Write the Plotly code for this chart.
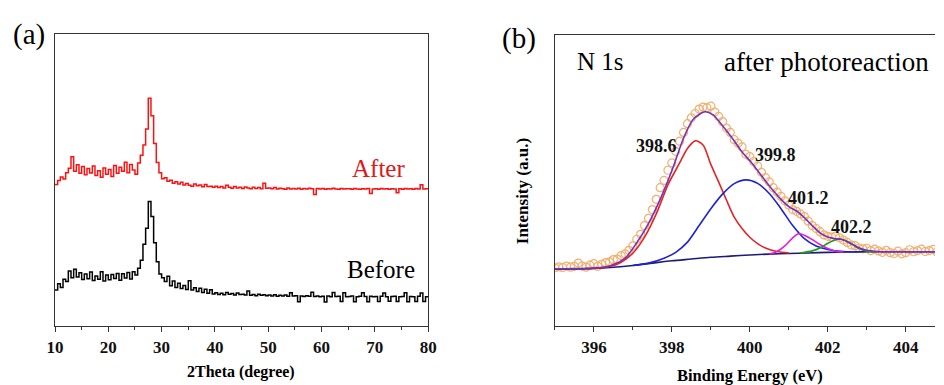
import plotly.graph_objects as go

# ---------------- Panel (a): XRD ----------------
two_theta = [10 + 0.5 * i for i in range(141)]
xrd_after = [
    48.5, 49.8, 51.0, 50.3, 52.5, 54.0, 58.0, 53.0, 55.2, 52.3,
    54.6, 51.8, 53.9, 52.4, 54.8, 51.5, 53.2, 50.9, 54.1, 52.0,
    53.6, 51.2, 55.0, 52.3, 54.4, 53.0, 56.1, 52.5, 55.3, 53.4,
    52.0, 55.8, 58.5, 62.0, 67.5, 78.0, 72.0, 62.5, 56.0, 52.5,
    50.4, 50.8, 49.6, 49.9, 48.9, 49.4, 48.6, 49.2, 48.3, 48.8,
    48.2, 47.9, 48.6, 48.0, 48.3, 47.7, 48.5, 47.8, 47.9, 47.5,
    47.9, 47.4, 47.8, 47.3, 48.2, 47.5, 47.2, 47.8, 47.3, 47.5,
    47.1, 47.6, 47.3, 47.0, 47.5, 47.1, 47.4, 47.0, 48.9, 47.2,
    47.3, 47.0, 47.4, 46.9, 47.2, 47.0, 46.8, 47.3, 46.9, 47.1,
    46.9, 47.2, 46.8, 47.1, 46.9, 47.2, 47.0, 45.0, 47.1, 46.9,
    47.1, 46.8, 47.0, 46.9, 47.2, 46.9, 46.8, 47.1, 46.9, 47.0,
    47.0, 46.8, 47.1, 46.9, 46.8, 47.0, 46.9, 47.1, 45.4, 46.9,
    47.0, 46.8, 47.1, 46.9, 47.0, 46.8, 47.0, 46.9, 45.6, 47.0,
    46.8, 47.1, 46.9, 47.0, 46.8, 47.1, 46.9, 48.4, 46.9, 47.0,
    46.9,
]
xrd_before = [
    12.3, 14.5, 13.2, 16.0, 15.2, 18.8, 16.5, 19.4, 16.8, 18.2,
    15.9, 17.8, 16.2, 18.5, 15.6, 17.1, 16.0, 18.6, 15.4, 17.5,
    15.8, 17.6, 16.3, 18.0, 15.7, 17.9, 16.4, 18.3, 16.1, 18.6,
    17.5, 19.8, 22.5, 28.0, 33.5, 42.6, 37.5, 28.5, 22.0, 17.8,
    16.5, 15.2, 17.0, 13.8, 15.4, 13.2, 14.6, 12.8, 13.9, 12.5,
    15.5, 12.3, 13.1, 11.8, 12.9, 11.5, 12.6, 11.2, 12.4, 11.0,
    11.4, 10.8, 11.2, 10.7, 11.5, 10.9, 11.1, 10.6, 11.3, 10.8,
    10.9, 10.6, 12.0, 10.5, 10.8, 10.4, 10.9, 10.5, 10.7, 10.4,
    10.6, 10.3, 10.7, 10.2, 10.5, 10.3, 10.6, 10.2, 11.4, 10.3,
    10.4, 8.3, 10.3, 10.1, 10.4, 10.2, 11.6, 10.1, 10.3, 10.0,
    10.2, 8.2, 10.3, 10.0, 11.5, 10.1, 10.2, 8.4, 11.4, 10.0,
    10.1, 10.3, 8.3, 10.0, 10.2, 11.4, 10.1, 8.3, 10.2, 10.0,
    10.1, 8.4, 10.2, 11.3, 10.0, 8.5, 10.1, 10.2, 8.4, 10.0,
    10.1, 11.4, 8.3, 10.1, 10.0, 8.4, 10.2, 11.3, 8.4, 10.0,
    10.0,
]
xrd_ticks = [10, 20, 30, 40, 50, 60, 70, 80]

# ---------------- Panel (b): XPS N 1s ----------------
be_raw = [round(395.0 + 0.1 * i, 1) for i in range(101)]
raw_counts = [
    20.0, 20.3, 20.1, 20.6, 20.2, 20.5, 21.6, 20.6, 20.2, 20.9,
    21.4, 20.5, 21.2, 21.8, 22.0, 22.8, 23.0, 24.2, 24.8, 26.0,
    27.5, 29.8, 31.5, 34.5, 37.0, 40.0, 43.5, 47.5, 50.0, 53.5,
    56.0, 60.0, 63.5, 66.5, 69.5, 71.5, 73.0, 74.5, 75.2, 75.0,
    75.5, 73.5, 72.0, 70.2, 68.0, 66.5, 64.0, 62.8, 61.5, 59.0,
    58.2, 56.5, 55.0, 52.8, 51.0, 49.5, 47.5, 46.0, 44.5, 43.0,
    41.5, 40.0, 39.4, 38.5, 37.6, 36.0, 34.5, 33.5, 32.4, 31.3,
    30.8, 30.5, 30.9, 30.3, 29.5, 28.7, 27.8, 27.6, 26.8, 26.5,
    26.7, 25.9, 26.4, 25.8, 25.3, 26.0, 25.2, 24.9, 25.7, 24.8,
    25.2, 26.2, 25.5, 25.9, 26.4, 25.6, 25.9, 26.3, 25.4, 26.1,
    25.8,
]

bg_x = [395.0, 395.5, 396.0, 396.5, 397.0, 397.5, 398.0, 398.5, 399.0, 399.5,
        400.0, 400.5, 401.0, 401.5, 402.0, 402.5, 403.0, 404.0, 405.0]
bg_y = [19.5, 19.6, 19.8, 20.2, 20.8, 21.6, 22.4, 23.0, 23.6, 24.0,
        24.4, 24.7, 24.9, 25.1, 25.3, 25.4, 25.5, 25.5, 25.5]

red_x = [395.8, 396.2, 396.6, 397.0, 397.3, 397.6, 397.9, 398.2, 398.4, 398.6,
         398.8, 399.0, 399.2, 399.4, 399.6, 399.8, 400.0, 400.2, 400.4, 400.7, 401.0]
red_y = [19.7, 20.0, 21.2, 25.0, 30.5, 38.5, 48.5, 56.0, 61.0, 63.6,
         62.2, 55.5, 49.5, 43.3, 37.4, 33.5, 30.5, 28.3, 26.8, 25.6, 25.1]

blue_x = [397.0, 397.4, 397.8, 398.1, 398.4, 398.7, 399.0, 399.3, 399.6, 399.9,
          400.2, 400.5, 400.8, 401.1, 401.4, 401.7, 402.0, 402.4, 402.8]
blue_y = [20.8, 21.6, 23.3, 25.3, 28.8, 34.5, 40.3, 45.3, 48.9, 50.2,
          49.0, 45.5, 40.3, 34.5, 30.0, 27.5, 26.3, 25.6, 25.5]

mag_x = [400.5, 400.7, 400.9, 401.1, 401.25, 401.4, 401.6, 401.8, 402.0, 402.2, 402.4]
mag_y = [24.7, 25.6, 27.5, 30.3, 31.7, 31.2, 29.7, 28.0, 26.6, 25.7, 25.4]

green_x = [401.3, 401.6, 401.8, 402.0, 402.15, 402.3, 402.45, 402.6, 402.8, 403.0, 403.2]
green_y = [25.1, 25.8, 26.8, 28.4, 29.4, 29.8, 29.4, 28.3, 26.6, 25.7, 25.5]

env_x = [395.0, 395.5, 396.0, 396.4, 396.8, 397.1, 397.4, 397.7, 398.0, 398.3,
         398.55, 398.85, 399.05, 399.3, 399.55, 399.8, 400.05, 400.3, 400.55, 400.8,
         401.0, 401.2, 401.4, 401.6, 401.8, 402.0, 402.2, 402.35, 402.55, 402.8,
         403.0, 403.3, 403.6, 404.0, 405.0]
env_y = [19.6, 19.7, 19.9, 20.6, 23.3, 28.6, 35.2, 43.5, 53.3, 64.5,
         71.0, 73.6, 72.6, 68.8, 64.5, 59.8, 56.0, 51.6, 47.3, 43.5,
         41.0, 39.5, 37.2, 34.5, 32.0, 30.6, 30.0, 29.8, 28.6, 26.9,
         26.0, 25.6, 25.5, 25.5, 25.5]

be_ticks = [396, 398, 400, 402, 404]
peak_labels = ["398.6", "399.8", "401.2", "402.2"]
peak_label_x = [397.6, 400.65, 401.5, 402.6]
peak_label_y = [62.0, 58.9, 43.8, 33.9]

SERIF = "Liberation Serif"
AXC = "#333333"


def px(xr):
    return (xr - 55) / 889.0


def py(yr):
    return (326 - yr) / 292.0


fig = go.Figure()

fig.add_trace(go.Scatter(x=two_theta, y=xrd_after, mode="lines",
                         line=dict(color="#ff1010", width=1.5, shape="hv"),
                         xaxis="x", yaxis="y", showlegend=False))
fig.add_trace(go.Scatter(x=two_theta, y=xrd_before, mode="lines",
                         line=dict(color="#000000", width=1.5, shape="hv"),
                         xaxis="x", yaxis="y", showlegend=False))

fig.add_trace(go.Scatter(x=be_raw, y=raw_counts, mode="markers",
                         marker=dict(symbol="circle-open", size=8, color="#f0b070",
                                     line=dict(width=1.2, color="#f0b070")),
                         xaxis="x2", yaxis="y2", showlegend=False))
for xs, ys, col in [(bg_x, bg_y, "#1c1c78"),
                    (red_x, red_y, "#e02626"),
                    (blue_x, blue_y, "#1f22d0"),
                    (mag_x, mag_y, "#e020e0"),
                    (green_x, green_y, "#229922"),
                    (env_x, env_y, "#7a2fb8")]:
    fig.add_trace(go.Scatter(x=xs, y=ys, mode="lines",
                             line=dict(color=col, width=1.6, shape="spline", smoothing=0.8),
                             xaxis="x2", yaxis="y2", showlegend=False))


def pa(text, xr, yr, size, color="#000", angle=0):
    return dict(text=text, x=px(xr), y=py(yr), xref="paper", yref="paper",
                xanchor="center", yanchor="middle", showarrow=False, textangle=angle,
                font=dict(family=SERIF, size=size, color=color))


ann = [
    pa("(a)", 29, 34, 29),
    pa("(b)", 524, 39, 29),
    pa("N 1s", 606, 61, 25),
    pa("after photoreaction", 834, 62, 27),
    pa("<b>2Theta (degree)</b>", 243, 372, 16),
    pa("<b>Binding Energy (eV)</b>", 757, 375, 16.5),
    pa("<b>Intensity (a.u.)</b>", 527, 191, 17, angle=-90),
]
ann.append(dict(text="After", x=70.6, y=54.1, xref="x", yref="y", showarrow=False,
                xanchor="center", yanchor="middle",
                font=dict(family=SERIF, size=25, color="#e01818")))
ann.append(dict(text="Before", x=71.2, y=19.2, xref="x", yref="y", showarrow=False,
                xanchor="center", yanchor="middle",
                font=dict(family=SERIF, size=25, color="#000")))
for t, xx, yy in zip(peak_labels, peak_label_x, peak_label_y):
    ann.append(dict(text="<b>%s</b>" % t, x=xx, y=yy, xref="x2", yref="y2", showarrow=False,
                    xanchor="center", yanchor="middle",
                    font=dict(family=SERIF, size=18, color="#111")))

tickfont = dict(family=SERIF, size=17, color="#111")

fig.update_layout(
    width=944, height=385,
    margin=dict(l=55, r=0, t=34, b=59),
    font=dict(family=SERIF),
    paper_bgcolor="white", plot_bgcolor="white",
    annotations=ann,
    xaxis=dict(domain=[0, px(432)], range=[10, 80], tickvals=xrd_ticks,
               ticktext=["<b>%d</b>" % v for v in xrd_ticks],
               ticks="outside", ticklen=5, tickwidth=1.3, tickcolor=AXC,
               minor=dict(ticks="outside", ticklen=3, tickwidth=1.2, dtick=5, tick0=10, tickcolor=AXC),
               showline=True, linecolor=AXC, linewidth=1.4, mirror=True,
               showgrid=False, zeroline=False, tickfont=tickfont, anchor="y"),
    yaxis=dict(domain=[0, 1], range=[0, 100], showticklabels=False, ticks="",
               showline=True, linecolor=AXC, linewidth=1.4, mirror=True,
               showgrid=False, zeroline=False, anchor="x"),
    xaxis2=dict(domain=[px(560), 1.0], range=[395.0, 404.75], tickvals=be_ticks,
                ticktext=["<b>%d</b>" % v for v in be_ticks],
                ticks="outside", ticklen=5, tickwidth=1.3, tickcolor=AXC,
                minor=dict(ticks="outside", ticklen=3, tickwidth=1.2, dtick=1, tick0=395, tickcolor=AXC),
                showline=True, linecolor=AXC, linewidth=1.4, mirror=True,
                showgrid=False, zeroline=False, tickfont=tickfont, anchor="y2"),
    yaxis2=dict(domain=[0, 0.997], range=[0, 100], showticklabels=False, ticks="",
                showline=True, linecolor=AXC, linewidth=1.4, mirror=False,
                showgrid=False, zeroline=False, anchor="x2"),
)

fig.write_html(
    "out.html",
    config={"displayModeBar": False},
    post_script="document.body.style.margin='0px'; document.body.style.overflow='hidden';",
)
